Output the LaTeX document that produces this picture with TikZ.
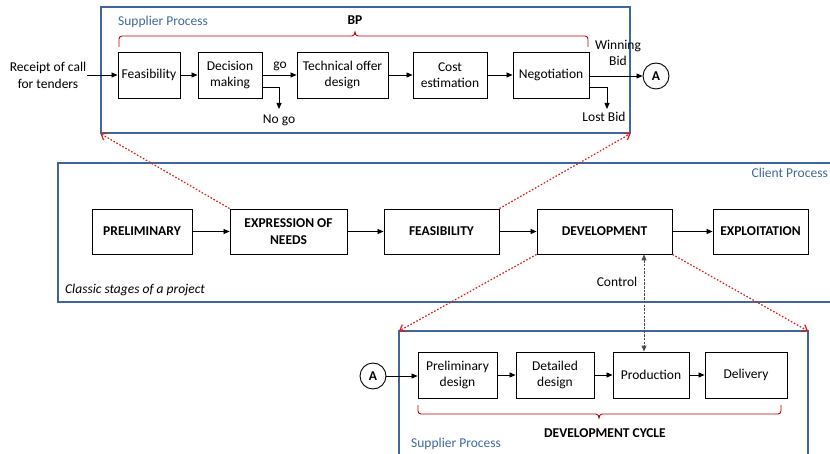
\documentclass[tikz,border=0pt]{standalone}
\usepackage{fontspec}
\setmainfont{Carlito}
\usetikzlibrary{arrows.meta}
\definecolor{frameblue}{HTML}{41679A}
\definecolor{bracered}{HTML}{C00000}
\definecolor{dotred}{HTML}{D81E1E}
\begin{document}
\begin{tikzpicture}[x=1pt,y=-1pt,
  font=\fontsize{13.5}{16.5}\selectfont,
  stepbox/.style={draw, line width=0.9pt, minimum height=46pt, align=center, inner sep=1pt},
  stagebox/.style={draw, line width=0.9pt, minimum height=45pt, align=center, inner sep=1pt, font=\fontsize{13.5}{16.5}\selectfont\bfseries},
  conn/.style={draw, line width=0.9pt, circle, minimum size=26pt, inner sep=0pt, font=\fontsize{13.5}{16.5}\selectfont\bfseries},
  arr/.style={line width=0.8pt, -{Triangle[length=6pt,width=5pt]}},
  frame/.style={draw=frameblue, line width=1.2pt},
  bluetxt/.style={text=frameblue, inner sep=0pt},
  redbrace/.style={draw=bracered, line width=0.9pt},
  reddot/.style={draw=dotred, line width=1.2pt, dash pattern=on 1.6pt off 1.8pt, -{Straight Barb[length=5pt,width=8pt]}},
  ctrl/.style={draw=black!70, line width=1pt, dash pattern=on 2.5pt off 1.2pt, {Triangle[length=6pt,width=5pt]}-{Triangle[length=6pt,width=5pt]}}
]
\useasboundingbox (0,0) rectangle (830,454);

% ---------- Top supplier process ----------
\node[frame, minimum width=529pt, minimum height=126pt, inner sep=0pt] (supTop) at (365.5,70) {};
\node[bluetxt, anchor=west] (supTopLbl) at (118,22) {Supplier Process};
\node[font=\fontsize{13.5}{16.5}\selectfont\bfseries, inner sep=0pt] (bp) at (355,20) {BP};
\draw[redbrace] (119,47) -- (119,39) to[out=90,in=180] (122,36) -- (352,36)
  to[out=0,in=-90] (355,32) to[out=-90,in=180] (358,36) -- (585,36)
  to[out=0,in=90] (588,39) -- (588,47);

\node[align=center, inner sep=1pt] (rcpt) at (48,75.5) {Receipt of call\\for tenders};
\node[stepbox, minimum width=62pt] (feas) at (149,75) {Feasibility};
\node[stepbox, minimum width=64pt] (dec) at (230,75) {Decision\\making};
\node[stepbox, minimum width=91pt] (tech) at (342.5,75) {Technical offer\\design};
\node[stepbox, minimum width=74pt] (cost) at (450,75) {Cost\\estimation};
\node[stepbox, minimum width=76pt] (neg) at (551,75) {Negotiation};
\node[conn] (A1) at (656,76) {A};

\node[inner sep=1pt] (go) at (280,66) {go};
\node[inner sep=1pt] (nogo) at (279,120) {No go};
\node[inner sep=1pt] (lost) at (604,117) {Lost Bid};
\node[align=center, inner sep=1pt] (win) at (618,53) {Winning\\Bid};
\coordinate (lostend) at (607,109);
\coordinate (nogoend) at (279,109);

\draw[arr] (rcpt.east |- feas.west) -- (feas.west);
\draw[arr] (feas) -- (dec);
\draw[arr] (dec) -- (tech);
\draw[arr] (tech) -- (cost);
\draw[arr] (cost) -- (neg);
\draw[arr] (neg.east |- A1.west) -- (A1.west);
\draw[arr] ([yshift=-12pt]dec.east) -| (nogoend);
\draw[arr] ([yshift=-12pt]neg.east) -| (lostend);

% ---------- Client process ----------
\draw[frame] (831,163) -- (58,163) -- (58,302) -- (831,302);
\node[bluetxt, anchor=east] (cliLbl) at (828,173) {Client Process};
\node[anchor=west, inner sep=0pt, font=\fontsize{13.5}{16.5}\selectfont\itshape] (classic) at (65,290) {Classic stages of a project};

\node[stagebox, minimum width=100pt] (pre) at (142,231.5) {PRELIMINARY};
\node[stagebox, minimum width=117pt] (expr) at (288.5,231.5) {EXPRESSION OF\\NEEDS};
\node[stagebox, minimum width=115pt] (fea) at (441.5,231.5) {FEASIBILITY};
\node[stagebox, minimum width=135pt] (dev) at (604.5,231.5) {DEVELOPMENT};
\node[stagebox, minimum width=95pt] (expl) at (760.5,231.5) {EXPLOITATION};

\draw[arr] (pre) -- (expr);
\draw[arr] (expr) -- (fea);
\draw[arr] (fea) -- (dev);
\draw[arr] (dev) -- (expl);

% ---------- Bottom supplier process ----------
\draw[frame] (399,460) -- (399,331) -- (808,331) -- (808,460);
\coordinate (supBotNW) at (399,331);
\coordinate (supBotNE) at (808,331);
\node[bluetxt, anchor=west] (supBotLbl) at (411,444) {Supplier Process};

\node[conn] (A2) at (373,376) {A};
\node[stepbox, minimum width=79pt] (pd) at (457.5,375) {Preliminary\\design};
\node[stepbox, minimum width=78pt] (dd) at (555,375) {Detailed\\design};
\node[stepbox, minimum width=76pt] (prod) at (651,375) {Production};
\node[stepbox, minimum width=82pt] (deliv) at (746,375) {Delivery};

\draw[arr] (A2.east) -- (A2.east -| pd.west);
\draw[arr] (pd) -- (dd);
\draw[arr] (dd) -- (prod);
\draw[arr] (prod) -- (deliv);

\draw[redbrace] (418,405) -- (418,411) to[out=-90,in=180] (421,414) -- (596,414)
  to[out=0,in=90] (599,418) to[out=90,in=180] (602,414) -- (778,414)
  to[out=0,in=-90] (781,411) -- (781,405);
\node[font=\fontsize{13.5}{16.5}\selectfont\bfseries, inner sep=0pt] (dcyc) at (605,433) {DEVELOPMENT CYCLE};

% ---------- Control ----------
\draw[ctrl] ([xshift=-7pt]prod.north |- dev.south) -- ([xshift=-7pt]prod.north);
\node[inner sep=0pt] (ctrlLbl) at (617,282) {Control};

% ---------- Red dotted projections ----------
\draw[reddot] (expr.north west) -- (supTop.south west);
\draw[reddot] (fea.north east) -- (supTop.south east);
\draw[reddot] (dev.south west) -- (supBotNW);
\draw[reddot] (dev.south east) -- (supBotNE);
\end{tikzpicture}
\end{document}
